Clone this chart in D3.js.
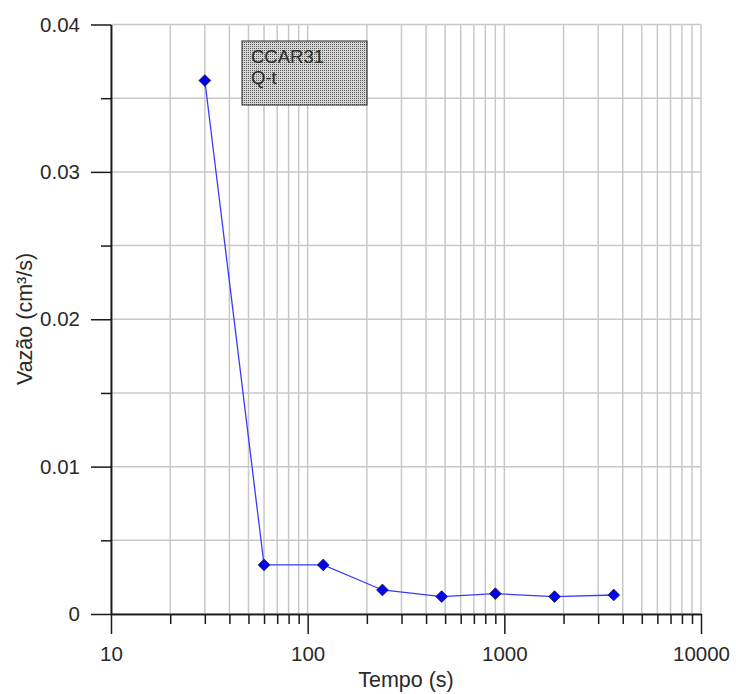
<!DOCTYPE html>
<html lang="pt">
<head>
<meta charset="UTF-8">
<title>CCAR31 Q-t</title>
<script src="https://d3js.org/d3.v7.min.js"></script>
<style>
    body { margin: 0; background: white; }
    text { font-family: "Liberation Sans", Arial, sans-serif; fill: #2a2a2a; }
</style>
</head>
<body>
<div id="chart"></div>
<script>
// data
const tempo = [30, 60, 120, 240, 480, 900, 1800, 3600];
const vazao = [0.0362, 0.00333, 0.00333, 0.00163, 0.00118, 0.00138, 0.00118, 0.00129];
const xMajor = [10, 100, 1000, 10000];
const yMajor = [0, 0.01, 0.02, 0.03, 0.04];
const yMinor = [0.005, 0.015, 0.025, 0.035];
const legendLines = ["CCAR31", "Q-t"];

const W = 736, H = 694;
const x = d3.scaleLog().domain([10, 10000]).range([111, 701]);
const y = d3.scaleLinear().domain([0, 0.04]).range([614, 24.5]);

// minor log ticks 2..9 in each decade
var xMinor = [];
for (var d = 10; d < 10000; d *= 10) {
    for (var k = 2; k <= 9; k++) xMinor.push(d * k);
}

var svg = d3.select("#chart").append("svg")
    .attr("width", W).attr("height", H);

var defs = svg.append("defs");
var pat = defs.append("pattern").attr("id", "stipple")
    .attr("width", 2).attr("height", 2).attr("patternUnits", "userSpaceOnUse");
pat.append("rect").attr("width", 2).attr("height", 2).attr("fill", "#d6d6d6");
pat.append("rect").attr("width", 1).attr("height", 1).attr("fill", "#5a5a5a");

// grid
var grid = svg.append("g").attr("stroke", "#c8c8c8").attr("stroke-width", 1.5);
grid.selectAll(".vg").data(xMajor.concat(xMinor)).enter().append("line")
    .attr("x1", d => x(d)).attr("x2", d => x(d))
    .attr("y1", y(0.04)).attr("y2", y(0));
grid.selectAll(".hg").data(yMajor.concat(yMinor)).enter().append("line")
    .attr("x1", x(10)).attr("x2", x(10000))
    .attr("y1", d => y(d)).attr("y2", d => y(d));

// axes
function styleAxis(g) {
    g.select(".domain").attr("stroke", "#1a1a1a").attr("stroke-width", 1.5);
    g.selectAll(".tick line").attr("stroke", "#1a1a1a").attr("stroke-width", 1.5);
    g.selectAll(".tick text").style("font-size", "20.5px").attr("fill", "#2a2a2a");
}

svg.append("g").attr("transform", "translate(0," + y(0) + ")")
    .call(d3.axisBottom(x).tickValues(xMinor).tickSize(10).tickFormat("").tickSizeOuter(0))
    .call(styleAxis);
svg.append("g").attr("transform", "translate(0," + y(0) + ")")
    .call(d3.axisBottom(x).tickValues(xMajor).tickSize(20).tickPadding(12)
        .tickFormat(d3.format("d")).tickSizeOuter(0))
    .call(styleAxis);

svg.append("g").attr("transform", "translate(" + x(10) + ",0)")
    .call(d3.axisLeft(y).tickValues(yMinor).tickSize(10).tickFormat("").tickSizeOuter(0))
    .call(styleAxis);
svg.append("g").attr("transform", "translate(" + x(10) + ",0)")
    .call(d3.axisLeft(y).tickValues(yMajor).tickSize(20).tickPadding(11)
        .tickFormat(d => d === 0 ? "0" : d3.format(".2f")(d)).tickSizeOuter(0))
    .call(styleAxis);

// axis titles
svg.append("text")
    .attr("x", 406).attr("y", 687)
    .attr("text-anchor", "middle")
    .style("font-size", "21.5px")
    .text("Tempo (s)");

svg.append("text")
    .attr("transform", "translate(32,319) rotate(-90)")
    .attr("text-anchor", "middle")
    .style("font-size", "21.5px")
    .text("Vazão (cm³/s)");

// series
var pts = tempo.map((t, i) => [t, vazao[i]]);
svg.append("path").datum(pts)
    .attr("fill", "none").attr("stroke", "#3a3aff").attr("stroke-width", 1.3)
    .attr("d", d3.line().x(d => x(d[0])).y(d => y(d[1])));

svg.selectAll(".pt").data(pts).enter().append("path")
    .attr("transform", d => "translate(" + x(d[0]) + "," + y(d[1]) + ")")
    .attr("d", d3.symbol().type(d3.symbolDiamond2).size(88))
    .attr("fill", "#0000ee").attr("stroke", "#1a1a40").attr("stroke-width", 0.8);

// legend box
var leg = svg.append("g");
leg.append("rect")
    .attr("x", 242).attr("y", 41).attr("width", 125).attr("height", 64)
    .attr("fill", "url(#stipple)").attr("stroke", "#2a2a2a").attr("stroke-width", 1);
leg.selectAll("text").data(legendLines).enter().append("text")
    .attr("x", 251).attr("y", (d, i) => 63 + i * 21)
    .style("font-size", "18.5px")
    .attr("fill", "#333")
    .text(d => d);
</script>
</body>
</html>
